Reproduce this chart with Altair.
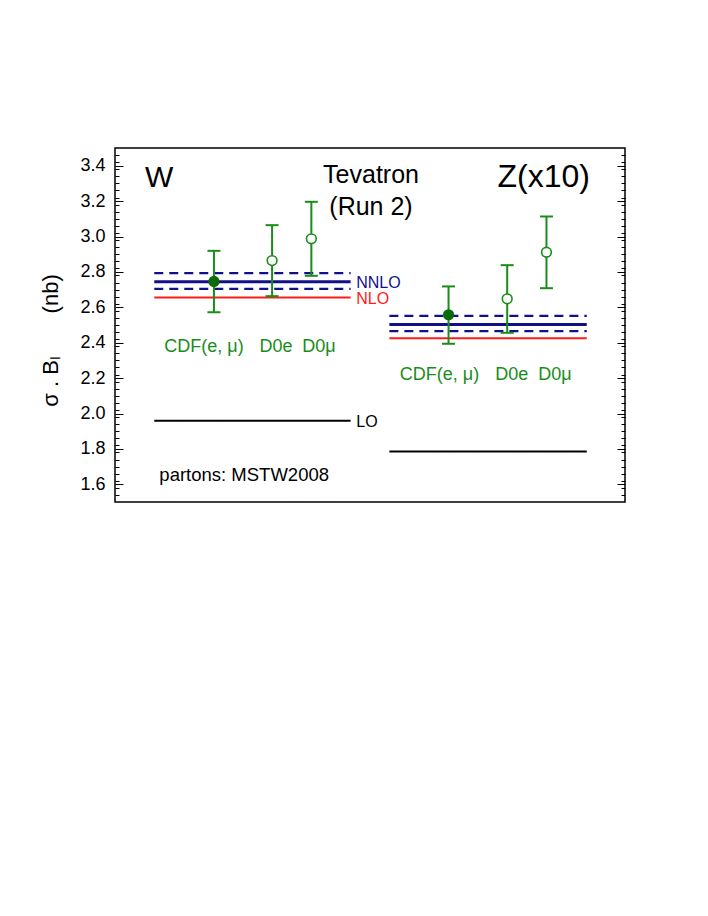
import altair as alt
import pandas as pd

FONT = "Liberation Sans"
GREEN = "#1a8c1a"
DARKGREEN = "#0b6b0b"
NAVY = "#10108a"
RED = "#ff1a1a"
NBSP = "\u00a0"

# ---- theory predictions (nb) ----
theory_kinds = ["NNLO+", "NNLO", "NNLO-", "NLO", "LO"]
W_theory = [2.793, 2.744, 2.704, 2.655, 1.959]
Z_theory = [2.552, 2.503, 2.465, 2.425, 1.785]
W_span = [0.77, 4.62]
Z_span = [5.38, 9.25]

# ---- measurements ----
experiments = ["CDF(e, μ)", "D0e", "D0μ"]
exp_filled = [True, False, False]
W_x = [1.94, 3.08, 3.85]
W_val = [2.746, 2.864, 2.987]
W_hi = [2.919, 3.064, 3.196]
W_lo = [2.572, 2.663, 2.778]
Z_x = [6.54, 7.69, 8.46]
Z_val = [2.558, 2.648, 2.911]
Z_hi = [2.718, 2.838, 3.113]
Z_lo = [2.394, 2.456, 2.708]

major_ticks = [1.6, 1.8, 2.0, 2.2, 2.4, 2.6, 2.8, 3.0, 3.2, 3.4]
minor_ticks = [round(1.5 + 0.04 * i, 2) for i in range(1, 50)]
minor_ticks = [t for t in minor_ticks if all(abs(t - m) > 1e-6 for m in major_ticks)]

rows = []
for proc, vals, span in [("W", W_theory, W_span), ("Z", Z_theory, Z_span)]:
    for k, v in zip(theory_kinds, vals):
        rows.append(dict(proc=proc, kind=k, y=v, x1=span[0], x2=span[1]))
theory_df = pd.DataFrame(rows)

erows = []
for proc, xs, vs, his, los in [("W", W_x, W_val, W_hi, W_lo), ("Z", Z_x, Z_val, Z_hi, Z_lo)]:
    for e, f, x, v, h, l in zip(experiments, exp_filled, xs, vs, his, los):
        erows.append(dict(proc=proc, exp=e, filled=f, x=x, val=v, hi=h, lo=l))
exp_df = pd.DataFrame(erows)

xscale = alt.Scale(domain=[0, 10], nice=False, zero=False)
yscale = alt.Scale(domain=[1.5, 3.5], nice=False, zero=False)

left_major = alt.Axis(
    orient="left", values=major_ticks, format=".1f", offset=-8, tickSize=8,
    domain=False, grid=False, labelPadding=10, labelFontSize=18, labelFont=FONT,
    labelColor="black", tickColor="black", tickWidth=1,
    title="σ . Bₗ" + NBSP * 7 + "(nb)", titleFont=FONT, titleFontSize=22,
    titleFontWeight="normal", titleColor="black", titleX=-73, titleY=192,
    titleAngle=270, titleAlign="center", titleBaseline="middle",
)
left_minor = alt.Axis(
    orient="left", values=minor_ticks, offset=-4, tickSize=4, domain=False, grid=False,
    labels=False, tickColor="black", tickWidth=1, title="",
)
right_major = alt.Axis(
    orient="right", values=major_ticks, offset=-8, tickSize=8, domain=False, grid=False,
    labels=False, tickColor="black", tickWidth=1, title="",
)
right_minor = alt.Axis(
    orient="right", values=minor_ticks, offset=-4, tickSize=4, domain=False, grid=False,
    labels=False, tickColor="black", tickWidth=1, title="",
)


def theory_layer(kind, color, width, dash, axis):
    return alt.Chart(theory_df).transform_filter(
        alt.datum.kind == kind
    ).mark_rule(color=color, strokeWidth=width, strokeDash=dash).encode(
        x=alt.X("x1:Q", scale=xscale, axis=None),
        x2="x2:Q",
        y=alt.Y("y:Q", scale=yscale, axis=axis),
    )


theory_layers = [
    theory_layer("LO", "black", 2, [1, 0], left_major),
    theory_layer("NLO", RED, 2, [1, 0], None),
    theory_layer("NNLO", NAVY, 3, [1, 0], None),
    theory_layer("NNLO+", NAVY, 2.2, [9, 6], None),
    theory_layer("NNLO-", NAVY, 2.2, [9, 6], None),
]

bars = alt.Chart(exp_df).mark_rule(color=GREEN, strokeWidth=2).encode(
    x=alt.X("x:Q", scale=xscale, axis=None),
    y=alt.Y("lo:Q", scale=yscale, axis=left_minor),
    y2="hi:Q",
)
caps_hi = alt.Chart(exp_df).mark_tick(orient="horizontal", size=13, thickness=2, color=GREEN, opacity=1).encode(
    x=alt.X("x:Q", scale=xscale, axis=None),
    y=alt.Y("hi:Q", scale=yscale, axis=right_major),
)
caps_lo = alt.Chart(exp_df).mark_tick(orient="horizontal", size=13, thickness=2, color=GREEN, opacity=1).encode(
    x=alt.X("x:Q", scale=xscale, axis=None),
    y=alt.Y("lo:Q", scale=yscale, axis=None),
)
pts_filled = alt.Chart(exp_df).transform_filter("datum.filled").mark_circle(
    size=125, color=DARKGREEN, opacity=1).encode(
    x=alt.X("x:Q", scale=xscale, axis=None),
    y=alt.Y("val:Q", scale=yscale, axis=right_minor),
)
pts_open = alt.Chart(exp_df).transform_filter("!datum.filled").mark_point(
    shape="circle", size=95, filled=True, fill="white", stroke=GREEN, strokeWidth=1.6, opacity=1).encode(
    x=alt.X("x:Q", scale=xscale, axis=None),
    y=alt.Y("val:Q", scale=yscale, axis=None),
)


def txt(label, x, y, size, color="black", align="left", baseline="alphabetic"):
    return alt.Chart(pd.DataFrame({"label": [label]})).mark_text(
        align=align, baseline=baseline, fontSize=size, font=FONT, color=color
    ).encode(
        x=alt.XDatum(x, scale=xscale, axis=None),
        y=alt.YDatum(y, scale=yscale, axis=None),
        text="label:N",
    )


texts = [
    txt("W", 0.59, 3.279, 30),
    txt("Z(x10)", 7.50, 3.279, 32),
    txt("Tevatron", 5.02, 3.301, 25, align="center"),
    txt("(Run 2)", 5.02, 3.119, 25, align="center"),
    txt("NNLO", 4.73, 2.711, 16, color=NAVY),
    txt("NLO", 4.73, 2.618, 16, color=RED),
    txt("LO", 4.73, 1.924, 16),
    txt("partons: MSTW2008", 0.87, 1.621, 18.5),
]
W_label_x = [1.745, 3.157, 4.0]
Z_label_x = [6.363, 7.778, 8.627]
for e, wx, zx in zip(experiments, W_label_x, Z_label_x):
    texts.append(txt(e, wx, 2.346, 18, color=GREEN, align="center"))
    texts.append(txt(e, zx, 2.188, 18, color=GREEN, align="center"))

chart = alt.layer(
    *theory_layers, bars, caps_hi, caps_lo, pts_filled, pts_open, *texts
).resolve_axis(y="independent").properties(
    width=510, height=354,
    autosize=alt.AutoSizeParams(type="none"),
    padding={"left": 107, "top": 140, "right": 60, "bottom": 60},
).configure_view(stroke="black", strokeWidth=1.5)

chart.save("out.html", embed_options={"renderer": "svg", "actions": False})
